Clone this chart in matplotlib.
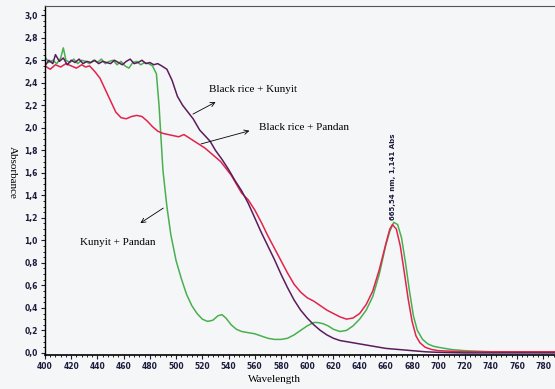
import matplotlib.pyplot as plt
from matplotlib.ticker import MultipleLocator, FuncFormatter

# ------------------ Dades llegides de la figura ------------------

# Kunyit + Pandan (verd)
wl_green = [400, 403, 406, 409, 412, 414, 416, 419, 422, 425, 428, 431, 434, 437, 440, 443, 446, 449,
            452, 455, 458, 461, 464, 467, 470, 473, 476, 479, 482, 485, 487, 490, 493, 496, 500,
            504, 508, 512, 516, 520, 524, 528, 532, 535, 538, 542, 546, 550, 555, 560, 565, 570,
            575, 580, 585, 590, 595, 600, 605, 608, 612, 616, 620, 625, 630, 635, 640, 645, 650,
            655, 660, 663, 666, 669, 672, 675, 678, 681, 684, 688, 692, 696, 700, 705, 710, 720,
            730, 740, 750, 760, 770, 780, 789]
abs_green = [2.63, 2.58, 2.60, 2.57, 2.62, 2.71, 2.60, 2.58, 2.61, 2.57, 2.60, 2.59, 2.57, 2.60, 2.58,
             2.61, 2.57, 2.59, 2.60, 2.56, 2.59, 2.55, 2.53, 2.58, 2.59, 2.56, 2.58, 2.57, 2.55, 2.48,
             2.20, 1.62, 1.30, 1.05, 0.82, 0.66, 0.52, 0.42, 0.35, 0.30, 0.28, 0.29, 0.33, 0.34, 0.31,
             0.25, 0.21, 0.19, 0.18, 0.17, 0.15, 0.13, 0.12, 0.12, 0.13, 0.16, 0.20, 0.24, 0.27, 0.27,
             0.26, 0.24, 0.21, 0.19, 0.20, 0.24, 0.30, 0.38, 0.50, 0.70, 0.96, 1.08, 1.16, 1.14, 1.02,
             0.80, 0.55, 0.33, 0.20, 0.12, 0.08, 0.06, 0.05, 0.04, 0.03, 0.02, 0.015, 0.01, 0.01,
             0.01, 0.01, 0.01, 0.01]

# Black rice + Kunyit (lila)
wl_purple = [400, 403, 406, 408, 411, 414, 417, 420, 423, 426, 429, 432, 435, 438, 441, 444, 447, 450,
             453, 456, 459, 462, 465, 468, 471, 474, 477, 480, 483, 486, 489, 493, 497, 501, 505,
             509, 513, 518, 522, 526, 530, 535, 540, 545, 550, 555, 560, 565, 570, 575, 580, 585,
             590, 595, 600, 605, 610, 615, 620, 625, 630, 640, 650, 660, 670, 680, 690, 700, 720,
             740, 760, 789]
abs_purple = [2.55, 2.60, 2.57, 2.65, 2.59, 2.62, 2.56, 2.60, 2.58, 2.61, 2.57, 2.59, 2.58, 2.60, 2.57,
              2.59, 2.58, 2.57, 2.60, 2.58, 2.56, 2.59, 2.61, 2.57, 2.58, 2.60, 2.57, 2.58, 2.56,
              2.57, 2.55, 2.52, 2.42, 2.28, 2.20, 2.14, 2.08, 1.98, 1.93, 1.88, 1.80, 1.72, 1.63,
              1.53, 1.44, 1.33, 1.20, 1.07, 0.95, 0.83, 0.70, 0.58, 0.47, 0.38, 0.31, 0.25, 0.20,
              0.16, 0.13, 0.11, 0.10, 0.08, 0.06, 0.04, 0.03, 0.02, 0.01, 0.005, 0.0, 0.0, 0.0, 0.0]

# Black rice + Pandan (vermell)
wl_red = [400, 404, 408, 412, 416, 420, 424, 428, 431, 434, 438, 442, 446, 450, 454, 458, 462, 466,
          470, 474, 478, 482, 486, 490, 494, 498, 502, 506, 510, 514, 518, 522, 526, 530, 534, 538,
          542, 546, 550, 555, 560, 565, 570, 575, 580, 585, 590, 595, 600, 605, 610, 615, 620, 625,
          630, 635, 640, 645, 650, 655, 660, 663, 665, 668, 671, 674, 677, 680, 683, 686, 690, 695,
          700, 720, 740, 789]
abs_red = [2.55, 2.52, 2.56, 2.54, 2.57, 2.55, 2.53, 2.56, 2.54, 2.55, 2.50, 2.44, 2.34, 2.24, 2.14,
           2.09, 2.08, 2.10, 2.11, 2.10, 2.06, 2.01, 1.97, 1.95, 1.94, 1.93, 1.92, 1.94, 1.91, 1.88,
           1.85, 1.82, 1.78, 1.74, 1.70, 1.64, 1.58, 1.50, 1.42, 1.36, 1.27, 1.16, 1.04, 0.93, 0.82,
           0.71, 0.61, 0.54, 0.49, 0.46, 0.42, 0.38, 0.35, 0.32, 0.30, 0.31, 0.35, 0.43, 0.55, 0.74,
           0.97, 1.10, 1.14, 1.10, 0.95, 0.72, 0.48, 0.28, 0.15, 0.09, 0.05, 0.03, 0.02, 0.01, 0.01,
           0.01]

# ------------------ Figura ------------------
fons = '#f5f6f8'
fig = plt.figure(figsize=(5.55, 3.89), dpi=100, facecolor=fons)
ax = fig.add_axes([0.081, 0.087, 0.919, 0.897])
ax.set_facecolor(fons)

ax.plot(wl_green, abs_green, color='#48b04e', lw=1.1)
ax.plot(wl_red, abs_red, color='#e2234c', lw=1.1)
ax.plot(wl_purple, abs_purple, color='#5a1d5c', lw=1.1)

ax.set_xlim(400, 789)
ax.set_ylim(-0.02, 3.08)
ax.xaxis.set_major_locator(MultipleLocator(20))
ax.xaxis.set_minor_locator(MultipleLocator(4))
ax.yaxis.set_major_locator(MultipleLocator(0.2))
ax.yaxis.set_minor_locator(MultipleLocator(0.05))
ax.xaxis.set_major_formatter(FuncFormatter(lambda v, p: '%d' % v))
ax.yaxis.set_major_formatter(FuncFormatter(lambda v, p: ('%.1f' % v).replace('.', ',')))
ax.tick_params(which='major', length=3, width=0.8, labelsize=5.5, colors='#1c1c3c', pad=2)
ax.tick_params(which='minor', length=1.5, width=0.6)
for lab in ax.get_xticklabels() + ax.get_yticklabels():
    lab.set_fontweight('bold')

ax.spines['right'].set_visible(False)
ax.spines['top'].set_color('#555555')
ax.spines['left'].set_linewidth(1.0)
ax.spines['bottom'].set_linewidth(1.2)

# Etiquetes dels eixos
fig.text(12 / 555, 1 - 172 / 389, 'Absorbance', rotation=-90, ha='center', va='center',
         family='Liberation Serif', fontsize=8)
fig.text(274 / 555, 1 - 380 / 389, 'Wavelength', ha='center', va='center',
         family='Liberation Serif', fontsize=8)

# Anotacions
fletxa = dict(arrowstyle='->', color='black', lw=0.6, mutation_scale=8)
ax.annotate('', xy=(532, 2.24), xytext=(511, 2.11), arrowprops=fletxa)
ax.text(525, 2.34, 'Black rice + Kunyit', family='Liberation Serif', fontsize=8, va='center')
ax.annotate('', xy=(558, 1.98), xytext=(517, 1.85), arrowprops=fletxa)
ax.text(563, 2.0, 'Black rice + Pandan', family='Liberation Serif', fontsize=8, va='center')
ax.annotate('', xy=(471, 1.14), xytext=(492, 1.3), arrowprops=fletxa)
ax.text(427, 0.98, 'Kunyit + Pandan', family='Liberation Serif', fontsize=8, va='center')

ax.text(665.5, 1.18, '665,54 nm, 1,141 Abs', rotation=90, ha='center', va='bottom',
        fontsize=5, fontweight='bold', color='#1c1c3c')

fig.savefig('out.png', dpi=100, facecolor=fons)
